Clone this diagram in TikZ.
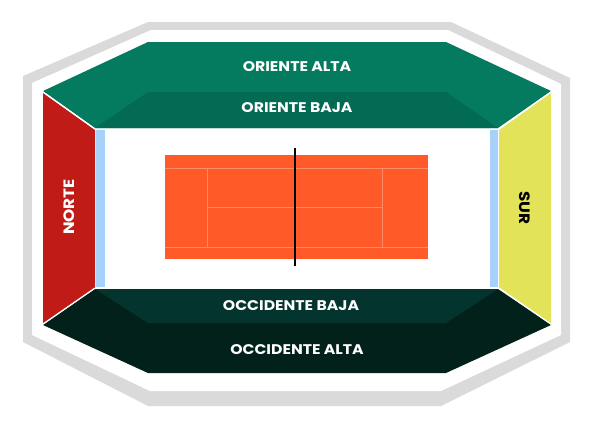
\documentclass[tikz,border=0pt]{standalone}
\usepackage{fontspec}
\setmainfont{Poppins}
\newfontfamily\standfont[FakeStretch=1.12]{Poppins}
\usetikzlibrary{positioning}

\definecolor{frameGray}{HTML}{DADADA}
\definecolor{altaGreen}{HTML}{047B5F}
\definecolor{bajaGreen}{HTML}{036B54}
\definecolor{norteRed}{HTML}{C01B17}
\definecolor{surYellow}{HTML}{E3E35A}
\definecolor{glassBlue}{HTML}{A6D1FB}
\definecolor{bajaDark}{HTML}{03342D}
\definecolor{altaDark}{HTML}{02211A}
\definecolor{clay}{HTML}{FF5A27}
\definecolor{clayLine}{HTML}{FF8C68}

\begin{document}
\begin{tikzpicture}[x=1pt, y=-1pt]

  %--- styles for the stands and labels ---
  \tikzset{
    standLabel/.style ={font=\standfont\bfseries\fontsize{14}{15}\selectfont, text=white, inner sep=0pt},
    sideLabel/.style  ={standLabel, font=\standfont\bfseries\fontsize{15}{16}\selectfont},
    courtLine/.style  ={draw=clayLine, line width=1pt},
    sepLine/.style    ={draw=white, line width=1.2pt},
  }

  \useasboundingbox (0,0) rectangle (593,434);

  %------------------------------------------------------------------------------
  % 1) Outer grey ring
  %------------------------------------------------------------------------------
  \fill[frameGray] (23,76) -- (148,22) -- (451,22) -- (570,78) -- (570,342)
    -- (441,406) -- (148,406) -- (23,342) -- cycle;
  \fill[white] (32,83) -- (151,30) -- (448,30) -- (561,84) -- (561,335)
    -- (441,391) -- (150,391) -- (32,335) -- cycle;

  %------------------------------------------------------------------------------
  % 2) Oriente (top)
  %------------------------------------------------------------------------------
  \fill[altaGreen] (43,91) -- (148,42) -- (446,42) -- (551,91) -- (498,128)
    -- (95,128) -- cycle;
  \fill[bajaGreen] (148,92) -- (446,92) -- (498,128) -- (95,128) -- cycle;

  %------------------------------------------------------------------------------
  % 3) Occidente (bottom)
  %------------------------------------------------------------------------------
  \fill[altaDark] (43,325) -- (95,289) -- (498,289) -- (551,325) -- (446,373)
    -- (148,373) -- cycle;
  \fill[bajaDark] (95,289) -- (498,289) -- (446,323) -- (148,323) -- cycle;

  %------------------------------------------------------------------------------
  % 4) Norte and Sur (sides) with glass strips
  %------------------------------------------------------------------------------
  \fill[norteRed] (43,93) -- (95,130) -- (95,288) -- (43,324) -- cycle;
  \fill[surYellow] (551,93) -- (499,130) -- (499,288) -- (551,324) -- cycle;
  \fill[glassBlue] (96,130) rectangle (105,287);
  \fill[glassBlue] (490,130) rectangle (498,287);

  \draw[sepLine] (43,92) -- (95,129);
  \draw[sepLine] (43,324) -- (95,288);
  \draw[sepLine] (551,92) -- (499,129);
  \draw[sepLine] (551,324) -- (499,288);

  %------------------------------------------------------------------------------
  % 5) Clay court
  %------------------------------------------------------------------------------
  \fill[clay] (165,155) rectangle (428,259);
  \draw[courtLine] (165,168) -- (428,168);
  \draw[courtLine] (165,247) -- (428,247);
  \draw[courtLine] (207,168) -- (207,247);
  \draw[courtLine] (382,168) -- (382,247);
  \draw[courtLine] (207,207) -- (382,207);
  \draw[black, line width=1.2pt] (295,148) -- (295,266);

  %------------------------------------------------------------------------------
  % 6) Labels
  %------------------------------------------------------------------------------
  \node[standLabel] (orAlta) at (297,67)  {ORIENTE ALTA};
  \node[standLabel] (orBaja) at (297,108) {ORIENTE BAJA};
  \node[standLabel] (ocBaja) at (291,306) {OCCIDENTE BAJA};
  \node[standLabel] (ocAlta) at (297,350) {OCCIDENTE ALTA};
  \node[sideLabel, rotate=90]  (norte) at (69,207)  {NORTE};
  \node[sideLabel, rotate=-90, text=black] (sur) at (525,208) {SUR};

\end{tikzpicture}
\end{document}
